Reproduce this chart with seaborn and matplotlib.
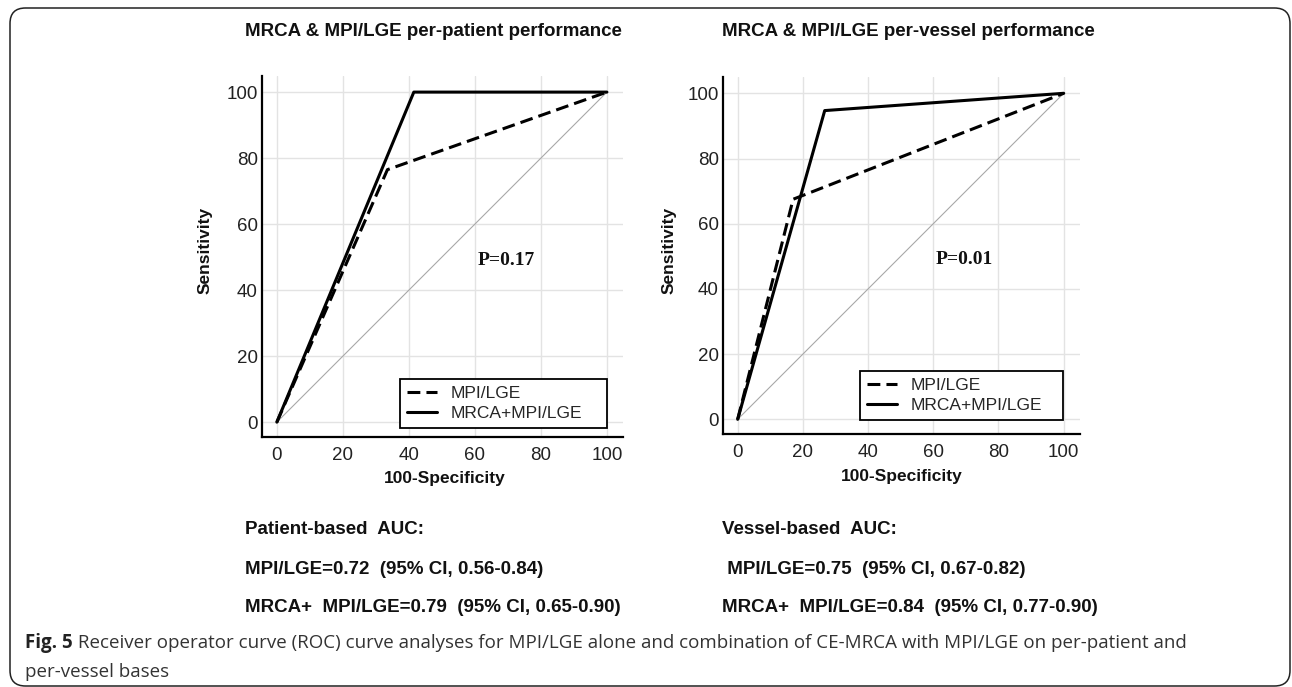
import numpy as np
import pandas as pd
import matplotlib
matplotlib.use("Agg")
import matplotlib.pyplot as plt
import seaborn as sns
from matplotlib.lines import Line2D
from matplotlib.patches import FancyBboxPatch
from matplotlib.ticker import MultipleLocator

# ---------------- data ----------------
patient_mpi_x = [0, 33.5, 100]
patient_mpi_y = [0, 76.5, 100]
patient_comb_x = [0, 41.5, 100]
patient_comb_y = [0, 100, 100]

vessel_mpi_x = [0, 17, 100]
vessel_mpi_y = [0, 67.5, 100]
vessel_comb_x = [0, 26.7, 100]
vessel_comb_y = [0, 94.7, 100]

diag = [0, 100]
series_labels = ["MPI/LGE", "MRCA+MPI/LGE"]
titles = ["MRCA & MPI/LGE per-patient performance", "MRCA & MPI/LGE per-vessel performance"]
p_values = ["P=0.17", "P=0.01"]
auc_headers = ["Patient-based  AUC:", "Vessel-based  AUC:"]
auc_mpi = ["MPI/LGE=0.72  (95% CI, 0.56-0.84)", " MPI/LGE=0.75  (95% CI, 0.67-0.82)"]
auc_comb = ["MRCA+  MPI/LGE=0.79  (95% CI, 0.65-0.90)", "MRCA+  MPI/LGE=0.84  (95% CI, 0.77-0.90)"]
caption_bold = "Fig. 5"
caption_rest = (" Receiver operator curve (ROC) curve analyses for MPI/LGE alone and "
                "combination of CE-MRCA with MPI/LGE on per-patient and")
caption_line2 = "per-vessel bases"

# ---------------- style ----------------
sns.set_theme(style="white")
plt.rcParams["font.family"] = ["Liberation Sans", "DejaVu Sans"]

W, H = 1292, 687
fig = plt.figure(figsize=(W / 100, H / 100), dpi=100)
fig.patch.set_facecolor("white")


def fx(x):
    return x / W


def fy(y):
    return 1 - y / H


# frame around figure
frame = FancyBboxPatch((fx(10), fy(686)), fx(1290) - fx(10), fy(8) - fy(686),
                       boxstyle="round,pad=0,rounding_size=0.012",
                       transform=fig.transFigure, fill=False,
                       edgecolor="#222222", linewidth=1.1, mutation_aspect=W / H)
fig.patches.append(frame)

axes_px = [(262, 437, 361.4), (723, 434, 357.0)]
xlabel_px = [(445, 478), (902, 476)]
ylabel_px = [(205, 250), (669, 250)]
legend_bbox = [(0.382, 0.025, 0.573, 0.147), (0.384, 0.039, 0.568, 0.146)]
title_px = [(245, 31), (722, 31)]
auc_x = [245, 722]

datasets = [
    (patient_mpi_x, patient_mpi_y, patient_comb_x, patient_comb_y),
    (vessel_mpi_x, vessel_mpi_y, vessel_comb_x, vessel_comb_y),
]

for i, (left, bottom, size) in enumerate(axes_px):
    ax = fig.add_axes([fx(left), fy(bottom), size / W, size / H])
    mx, my, cx, cy = datasets[i]
    ax.set_xlim(-4.5, 105)
    ax.set_ylim(-4.5, 105)
    # grid
    ax.grid(True, which="major", color="#e3e3e3", linewidth=1.0)
    ax.set_axisbelow(True)
    # diagonal
    sns.lineplot(x=diag, y=diag, ax=ax, color="#a8a8a8", linewidth=0.8, sort=False)
    sns.lineplot(x=mx, y=my, ax=ax, color="black", linewidth=2.2, sort=False,
                 linestyle=(0, (4.2, 2.0)))
    sns.lineplot(x=cx, y=cy, ax=ax, color="black", linewidth=2.2, sort=False)

    for s in ["top", "right"]:
        ax.spines[s].set_visible(False)
    for s in ["left", "bottom"]:
        ax.spines[s].set_linewidth(1.6)
        ax.spines[s].set_color("black")

    ax.xaxis.set_minor_locator(MultipleLocator(5))
    ax.yaxis.set_minor_locator(MultipleLocator(5))
    ax.set_xticks([0, 20, 40, 60, 80, 100])
    ax.set_yticks([0, 20, 40, 60, 80, 100])
    ax.tick_params(axis="both", which="major", direction="in", length=8.5, width=1.5,
                   color="black", labelsize=13.5, labelcolor="#222222")
    ax.tick_params(axis="both", which="minor", direction="in", length=5, width=1.3,
                   color="black")
    ax.tick_params(axis="x", which="major", pad=7)
    ax.tick_params(axis="y", which="major", pad=3)
    ax.set_xlabel("")
    ax.set_ylabel("")

    # p value
    ax.text(69.5, 49, p_values[i], fontsize=14, fontweight="bold",
            family=["Liberation Serif", "DejaVu Serif"], ha="center", va="center",
            color="#111111")

    handles = [Line2D([], [], color="black", linewidth=2.2, linestyle=(0, (4.2, 2.0))),
               Line2D([], [], color="black", linewidth=2.2)]
    leg = ax.legend(handles, series_labels, loc="lower left", bbox_to_anchor=legend_bbox[i],
                    mode="expand", borderaxespad=0, fontsize=12.5, frameon=True,
                    fancybox=False, edgecolor="black", handlelength=1.75,
                    handletextpad=0.75, borderpad=0.4, labelspacing=0.3)
    leg.get_frame().set_linewidth(1.3)
    leg.get_frame().set_alpha(1)

    # axis labels as figure text (exact placement)
    fig.text(fx(xlabel_px[i][0]), fy(xlabel_px[i][1]), "100-Specificity", fontsize=12.5,
             fontweight="bold", ha="center", va="center", color="#111111")
    fig.text(fx(ylabel_px[i][0]), fy(ylabel_px[i][1]), "Sensitivity", fontsize=12.5,
             fontweight="bold", ha="center", va="center", rotation=90, color="#111111")

    # title
    fig.text(fx(title_px[i][0]), fy(title_px[i][1]), titles[i], fontsize=13.5,
             fontweight="bold", ha="left", va="center", color="#111111")

    # AUC block
    fig.text(fx(auc_x[i]), fy(530), auc_headers[i], fontsize=13.5, fontweight="bold",
             ha="left", va="center", color="#111111")
    fig.text(fx(auc_x[i]), fy(569), auc_mpi[i], fontsize=13.5, fontweight="bold",
             ha="left", va="center", color="#111111")
    fig.text(fx(auc_x[i]), fy(608), auc_comb[i], fontsize=13.5, fontweight="bold",
             ha="left", va="center", color="#111111")

# caption, fitted to the reference line width
renderer = fig.canvas.get_renderer()
base = 12.0
tb = fig.text(0, 0, caption_bold, fontsize=base, fontweight="bold", family=["Open Sans", "DejaVu Sans"])
tr = fig.text(0, 0, caption_rest, fontsize=base, family=["Open Sans", "DejaVu Sans"])
wtot = tb.get_window_extent(renderer).width + tr.get_window_extent(renderer).width
tb.remove()
tr.remove()
cap_size = base * 1155 / wtot
tb = fig.text(fx(25), fy(643), caption_bold, fontsize=cap_size, fontweight="bold",
              family=["Open Sans", "DejaVu Sans"], ha="left", va="center", color="#222222")
wb = tb.get_window_extent(renderer).width
fig.text(fx(25 + wb), fy(643), caption_rest, fontsize=cap_size,
         family=["Open Sans", "DejaVu Sans"], ha="left", va="center", color="#333333")
fig.text(fx(25), fy(672), caption_line2, fontsize=cap_size,
         family=["Open Sans", "DejaVu Sans"], ha="left", va="center", color="#333333")

fig.savefig("out.png", dpi=100, facecolor="white")
